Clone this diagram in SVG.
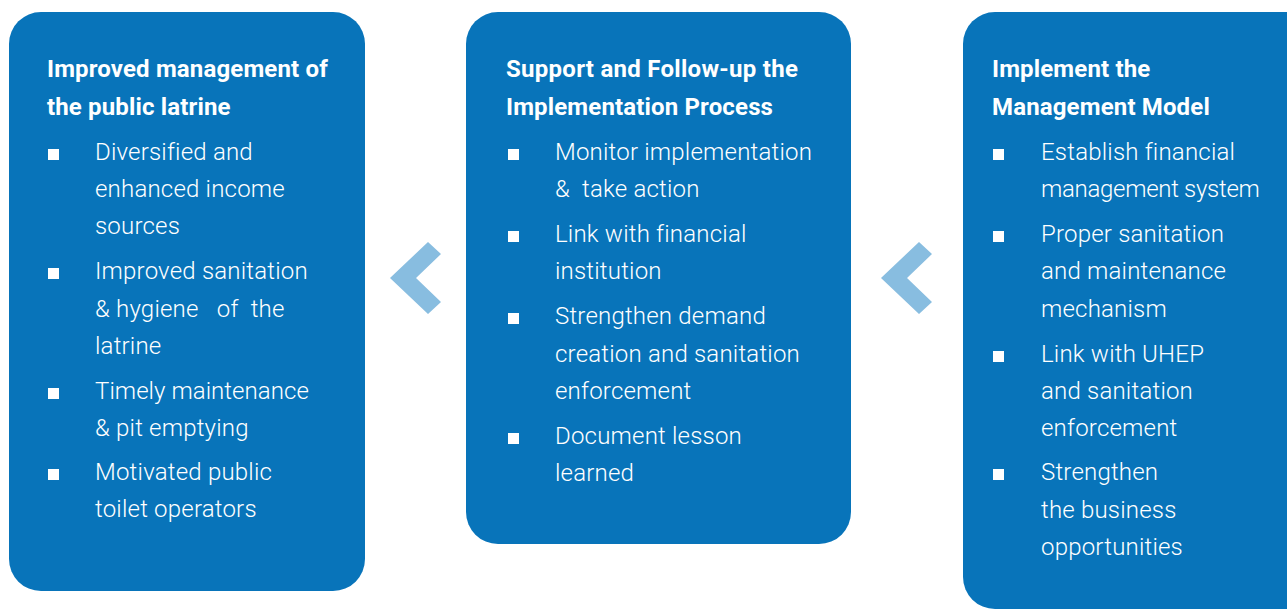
<svg xmlns="http://www.w3.org/2000/svg" width="1287" height="610" viewBox="0 0 1287 610">
<style>
.box{fill:#0874BA}
.chev{fill:#88BDE0}
.t{font-family:Roboto,"Liberation Sans",sans-serif;font-weight:700;font-size:24px;fill:#fff;letter-spacing:0.15px}
.b{font-family:Roboto,"Liberation Sans",sans-serif;font-weight:300;font-size:24px;fill:#fff;letter-spacing:0.2px}
.sq{fill:#fff}
</style>
<rect width="1287" height="610" fill="#fff"/>
<g id="node1">
<rect class="box" x="9" y="12" width="356" height="579" rx="32"/>
<text class="t" x="47" y="77">Improved management of</text>
<text class="t" x="47" y="115">the public latrine</text>
<rect class="sq" x="48" y="149" width="11" height="11"/>
<text class="b" x="95" y="160">Diversified and</text>
<text class="b" x="95" y="197">enhanced income</text>
<text class="b" x="95" y="234">sources</text>
<rect class="sq" x="48" y="268" width="11" height="11"/>
<text class="b" x="95" y="279" xml:space="preserve">Improved sanitation</text>
<text class="b" x="95" y="317" xml:space="preserve">&amp; hygiene   of  the</text>
<text class="b" x="95" y="354">latrine</text>
<rect class="sq" x="48" y="388" width="11" height="11"/>
<text class="b" x="95" y="399" textLength="214">Timely maintenance</text>
<text class="b" x="95" y="436">&amp; pit emptying</text>
<rect class="sq" x="48" y="469" width="11" height="11"/>
<text class="b" x="95" y="480">Motivated public</text>
<text class="b" x="95" y="517">toilet operators</text>
</g>
<g id="node2">
<rect class="box" x="466" y="12" width="385" height="532" rx="32"/>
<text class="t" x="506" y="77" textLength="292">Support and Follow-up the</text>
<text class="t" x="506" y="115">Implementation Process</text>
<rect class="sq" x="508" y="149" width="11" height="11"/>
<text class="b" x="555" y="160">Monitor implementation</text>
<text class="b" x="555" y="197" xml:space="preserve">&amp;  take action</text>
<rect class="sq" x="508" y="231" width="11" height="11"/>
<text class="b" x="555" y="242">Link with financial</text>
<text class="b" x="555" y="279">institution</text>
<rect class="sq" x="508" y="313" width="11" height="11"/>
<text class="b" x="555" y="324">Strengthen demand</text>
<text class="b" x="555" y="362">creation and sanitation</text>
<text class="b" x="555" y="399">enforcement</text>
<rect class="sq" x="508" y="433" width="11" height="11"/>
<text class="b" x="555" y="444">Document lesson</text>
<text class="b" x="555" y="481">learned</text>
</g>
<g id="node3">
<rect class="box" x="963" y="12" width="360" height="597" rx="32"/>
<text class="t" x="992" y="77">Implement the</text>
<text class="t" x="992" y="115">Management Model</text>
<rect class="sq" x="993" y="149" width="11" height="11"/>
<text class="b" x="1041" y="160">Establish financial</text>
<text class="b" x="1041" y="197" textLength="219">management system</text>
<rect class="sq" x="993" y="231" width="11" height="11"/>
<text class="b" x="1041" y="242">Proper sanitation</text>
<text class="b" x="1041" y="279">and maintenance</text>
<text class="b" x="1041" y="317">mechanism</text>
<rect class="sq" x="993" y="351" width="11" height="11"/>
<text class="b" x="1041" y="362">Link with UHEP</text>
<text class="b" x="1041" y="399">and sanitation</text>
<text class="b" x="1041" y="436">enforcement</text>
<rect class="sq" x="993" y="469" width="11" height="11"/>
<text class="b" x="1041" y="480">Strengthen</text>
<text class="b" x="1041" y="518">the business</text>
<text class="b" x="1041" y="555">opportunities</text>
</g>
<g id="connectors">
<polygon class="chev" points="390,278 428,242 441,254 416,278 441,302 428,314"/>
<polygon class="chev" points="881,278 919,242 932,254 907,278 932,302 919,314"/>
</g>
</svg>
